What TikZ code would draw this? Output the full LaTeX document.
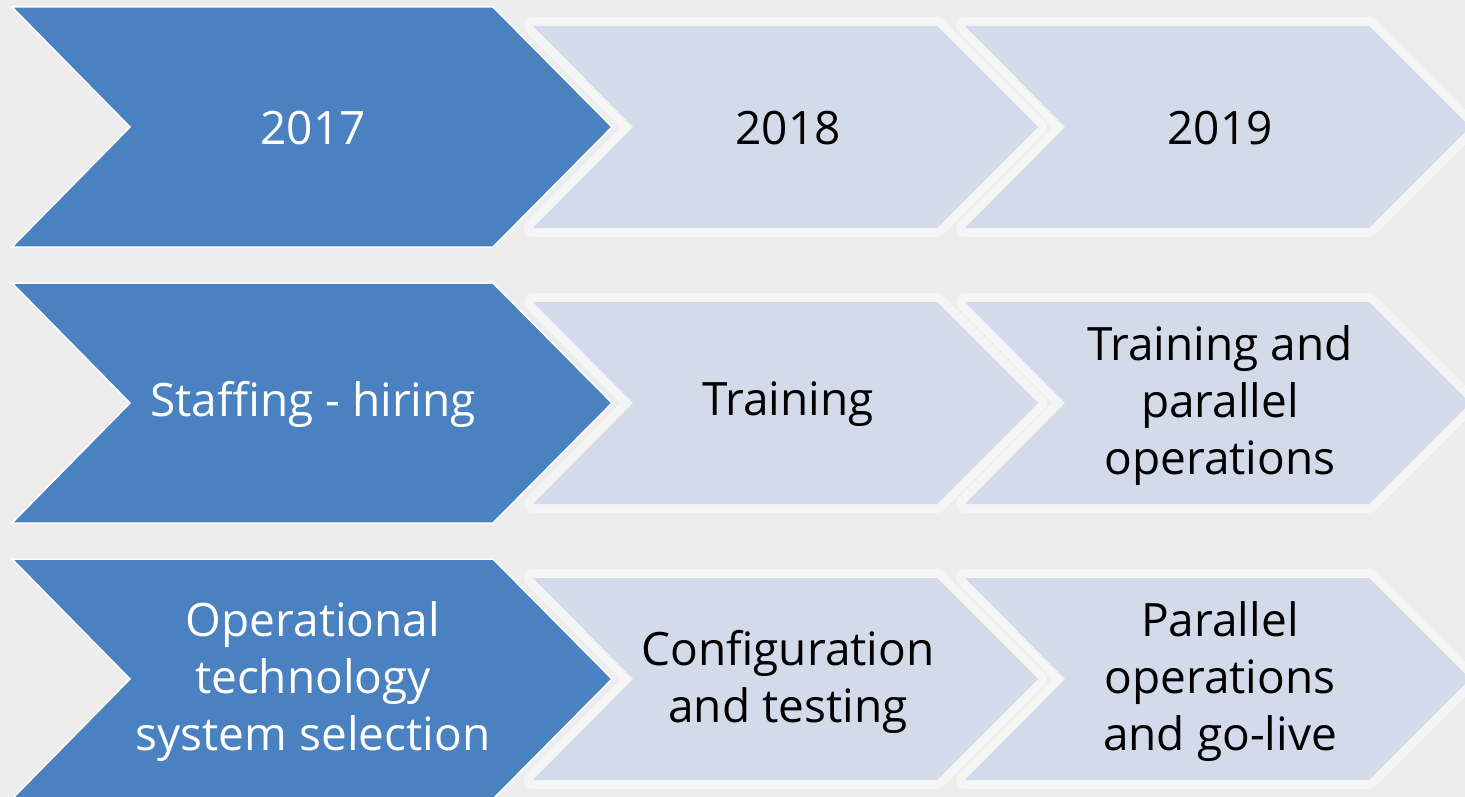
\documentclass[tikz,border=0pt]{standalone}
\usepackage{fontspec}
\setmainfont{Open Sans}
\definecolor{darkblue}{HTML}{4A81C1}
\definecolor{lightblue}{HTML}{D3DAEA}
\definecolor{bggray}{HTML}{EDEDED}
\begin{document}
\begin{tikzpicture}[x=1pt,y=-1pt,
  darkchev/.style={fill=darkblue, draw=white, line width=1.5pt, line join=miter},
  lightchev/.style={fill=lightblue},
  glow/.style={draw=white, draw opacity=0.45, line width=18pt, line join=round},
  lbl/.style={font=\fontsize{46}{57}\selectfont, align=center, inner sep=0pt},
  darklbl/.style={lbl, text=white},
  lightlbl/.style={lbl, text=black}]
\useasboundingbox (0,0) rectangle (1465,797);
\clip (0,0) rectangle (1465,797);
\fill[bggray] (0,0) rectangle (1465,797);
\foreach \r in {0,1,2} {
  \begin{scope}[shift={(0,276*\r)}]
    \draw[glow] (533,26) -- (937,26) -- (1038,127) -- (937,228) -- (533,228) -- (633,127) -- cycle;
    \draw[glow] (965,26) -- (1369,26) -- (1470,127) -- (1369,228) -- (965,228) -- (1065,127) -- cycle;
    \fill[lightchev] (533,26) -- (937,26) -- (1038,127) -- (937,228) -- (533,228) -- (633,127) -- cycle;
    \fill[lightchev] (965,26) -- (1369,26) -- (1470,127) -- (1369,228) -- (965,228) -- (1065,127) -- cycle;
    \draw[darkchev] (12,7) -- (493,7) -- (612,127) -- (493,247) -- (12,247) -- (130,127) -- cycle;
  \end{scope}
}
\node[darklbl] (a1) at (313,128) {2017};
\node[lightlbl] (b1) at (788,128) {2018};
\node[lightlbl] (c1) at (1220,128) {2019};
\node[darklbl] (a2) at (313,404) {Staffing - hiring};
\node[lightlbl] (b2) at (788,404) {Training};
\node[lightlbl] (c2) at (1220,406) {Training and\\parallel\\operations};
\node[darklbl] (a3) at (313,682) {Operational\\technology\\system selection};
\node[lightlbl] (b3) at (788,682) {Configuration\\and testing};
\node[lightlbl] (c3) at (1220,682) {Parallel\\operations\\and go-live};
\end{tikzpicture}
\end{document}
